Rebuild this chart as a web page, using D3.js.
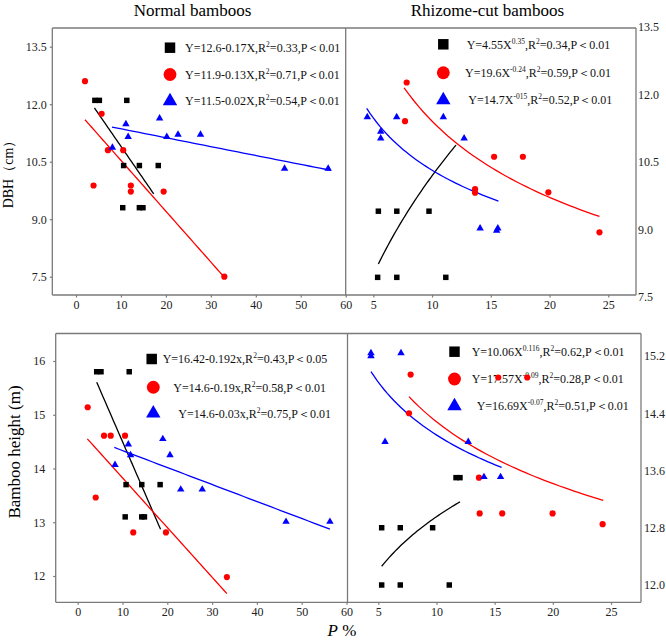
<!DOCTYPE html>
<html>
<head>
<meta charset="utf-8">
<script src="https://cdn.jsdelivr.net/npm/d3@7/dist/d3.min.js"></script>
<style>
	body { margin: 0; background: #fff; }
	svg text { font-family: "Liberation Serif", "Times New Roman", serif; }
</style>
</head>
<body>
<div id="chart"></div>
<script>
// values: [P %, value]
var normalDbhSquare = [[4.2,12.1],[5.2,12.1],[11.3,12.1],[10.6,10.4],[14.1,10.4],[18.3,10.4],[10.4,9.3],[14.1,9.3],[14.9,9.3]];
var normalDbhCircle = [[2.0,12.6],[5.7,11.75],[7.1,10.8],[10.5,10.8],[3.9,9.88],[12.2,9.88],[12.2,9.72],[19.5,9.72],[33.0,7.5]];
var normalDbhTriangle = [[8.1,10.87],[11.1,11.48],[11.6,11.15],[18.6,11.63],[20.2,11.15],[22.7,11.21],[27.7,11.21],[46.4,10.32],[56.1,10.32]];

var rhizomeDbhSquare = [[5.43,9.4],[7.0,9.4],[9.74,9.4],[5.37,7.93],[7.0,7.93],[11.17,7.93]];
var rhizomeDbhCircle = [[7.84,12.26],[7.7,11.4],[15.28,10.61],[17.73,10.61],[13.66,9.89],[13.66,9.81],[19.9,9.82],[24.25,8.93]];
var rhizomeDbhTriangle = [[4.49,11.49],[6.99,11.49],[10.96,11.49],[5.63,11.17],[5.63,11.02],[12.73,11.02],[14.09,9.02],[15.5,8.97],[15.6,9.02]];

var normalHtSquare = [[4.24,15.8],[5.2,15.8],[11.5,15.8],[10.8,13.7],[14.3,13.7],[18.4,13.7],[10.6,13.1],[14.3,13.1],[14.9,13.1]];
var normalHtCircle = [[2.23,15.14],[5.87,14.61],[7.37,14.61],[10.56,14.61],[4.02,13.46],[12.4,12.81],[19.7,12.81],[33.3,11.98]];
var normalHtTriangle = [[8.33,14.07],[11.3,14.45],[11.8,14.25],[19.0,14.55],[20.6,14.25],[23.0,13.61],[27.8,13.61],[46.5,13.01],[56.3,13.01]];

var rhizomeHtSquare = [[5.29,12.8],[6.89,12.8],[9.67,12.8],[5.29,12.0],[6.89,12.0],[11.1,12.0],[11.68,13.5],[12.02,13.5]];
var rhizomeHtCircle = [[7.78,14.94],[15.31,14.9],[17.8,14.9],[7.64,14.4],[13.65,13.5],[13.71,13.0],[15.65,13.0],[19.98,13.0],[24.28,12.85]];
var rhizomeHtTriangle = [[4.37,15.24],[4.37,15.2],[6.95,15.24],[5.58,14.0],[12.73,14.0],[14.08,13.51],[15.51,13.51]];

// fitted curves as drawn: [type, a, b, xStart, xEnd]  linear: a+bx, power: a*x^b
var normalDbhFit = [["lin",12.6,-0.17,4.1,17.3],["lin",11.86,-0.1326,2.0,32.7],["lin",11.59,-0.0232,8.0,56.7]];
var rhizomeDbhFit = [["pow",4.55,0.35,5.43,12.04],["pow",19.45,-0.232,7.62,24.25],["pow",14.7,-0.154,4.44,15.65]];
var normalHtFit = [["lin",16.42,-0.192,4.24,18.5],["lin",14.75,-0.0924,2.14,33.3],["lin",14.65,-0.0316,8.17,56.3]];
var rhizomeHtFit = [["pow",10.62,0.0863,5.29,12.02],["pow",17.57,-0.09,7.64,24.33],["pow",16.7,-0.0736,4.37,15.6]];

var normalDbhLegend = ["Y=12.6-0.17X,R^{2}=0.33,P＜0.01","Y=11.9-0.13X,R^{2}=0.71,P＜0.01","Y=11.5-0.02X,R^{2}=0.54,P＜0.01"];
var rhizomeDbhLegend = ["Y=4.55X^{0.35},R^{2}=0.34,P＜0.01","Y=19.6X^{-0.24},R^{2}=0.59,P＜0.01","Y=14.7X^{-015},R^{2}=0.52,P＜0.01"];
var normalHtLegend = ["Y=16.42-0.192x,R^{2}=0.43,P＜0.05","Y=14.6-0.19x,R^{2}=0.58,P＜0.01","Y=14.6-0.03x,R^{2}=0.75,P＜0.01"];
var rhizomeHtLegend = ["Y=10.06X^{0.116},R^{2}=0.62,P＜0.01","Y=17.57X^{-0.09},R^{2}=0.28,P＜0.01","Y=16.69X^{-0.07},R^{2}=0.51,P＜0.01"];

var normalXTicks = [0,10,20,30,40,50,60];
var rhizomeXTicks = [5,10,15,20,25];
var dbhTicks = [7.5,9.0,10.5,12.0,13.5];
var heightLeftTicks = [12,13,14,15,16];
var heightRightTicks = [12.0,12.8,13.6,14.4,15.2];

var titles = ["Normal bamboos","Rhizome-cut bamboos"];

var layout = { w: 666, h: 641 };
var colors = ["#000000","#ff0000","#0000ff"];
var frameColor = "#7a7a7a";

var svg = d3.select("#chart").append("svg")
			.attr("width", layout.w)
			.attr("height", layout.h);

// frames: two rows, each split at the divider
var rows = [
	{ l: 52.3, r: 636, t: 28, b: 295, mid: 345.7 },
	{ l: 55.7, r: 641, t: 333.5, b: 602.3, mid: 347.5 }
];
rows.forEach(function(f){
	var g = svg.append("g").attr("class", "frame");
	[[f.l,f.t,f.r,f.t],[f.l,f.b,f.r,f.b],[f.l,f.t,f.l,f.b],[f.r,f.t,f.r,f.b],[f.mid,f.t,f.mid,f.b]].forEach(function(s){
		g.append("line")
			.attr("x1", s[0]).attr("y1", s[1])
			.attr("x2", s[2]).attr("y2", s[3])
			.style("stroke", frameColor)
			.style("stroke-width", 1.3);
	});
});

var panels = [
	{ row: 0, side: "left", xd: [0,60], xr: [76,345.7], yd: [7.5,13.5], yr: [276.7,46.7],
	  xt: normalXTicks, yt: dbhTicks, yf: ".1f", ypad: 3,
	  series: [normalDbhSquare, normalDbhCircle, normalDbhTriangle], fits: normalDbhFit,
	  legend: normalDbhLegend, lgMark: [170,170,170], lgText: [185,185,185], lgY: [47.7,74.5,101] },
	{ row: 0, side: "right", xd: [5,25], xr: [373.3,608.3], yd: [7.5,13.5], yr: [296.7,26.7],
	  xt: rhizomeXTicks, yt: dbhTicks, yf: ".1f", ypad: 2,
	  series: [rhizomeDbhSquare, rhizomeDbhCircle, rhizomeDbhTriangle], fits: rhizomeDbhFit,
	  legend: rhizomeDbhLegend, lgMark: [443.3,443.3,443.3], lgText: [466.7,465,468.3], lgY: [44.3,72.7,100] },
	{ row: 1, side: "left", xd: [0,50], xr: [77.7,301.7], yd: [12,16], yr: [576,361],
	  xt: normalXTicks, yt: heightLeftTicks, yf: "d", ypad: 8,
	  series: [normalHtSquare, normalHtCircle, normalHtTriangle], fits: normalHtFit,
	  legend: normalHtLegend, lgMark: [151.7,153.3,153.3], lgText: [162.7,173.3,178.3], lgY: [359,387.3,413.3] },
	{ row: 1, side: "right", xd: [5,25], xr: [378.3,611], yd: [12.0,15.2], yr: [585,356],
	  xt: rhizomeXTicks, yt: heightRightTicks, yf: ".1f", ypad: 3,
	  series: [rhizomeHtSquare, rhizomeHtCircle, rhizomeHtTriangle], fits: rhizomeHtFit,
	  legend: rhizomeHtLegend, lgMark: [454.5,454.5,454.5], lgText: [471.7,471.7,476.7], lgY: [351.7,379,406] }
];

var shapes = [d3.symbolSquare, d3.symbolCircle, d3.symbolTriangle];
var pointSize = [30, 30, 24];
var legendSize = [110, 130, 90];

function fitValue(f, x){
	return f[0] == "lin" ? f[1] + f[2] * x : f[1] * Math.pow(x, f[2]);
}

function writeLabel(sel, str){
	// split "^{...}" into superscripts, the piece after one drops back down
	var parts = str.split(/\^\{([^}]*)\}/),
		shift = 0;
	parts.forEach(function(p, i){
		if(p === "") return;
		var sup = i % 2 == 1;
		var dy = sup ? -5 : (shift ? 5 : 0);
		var ts = sel.append("tspan").attr("dy", dy).text(p);
		if(sup) ts.style("font-size", "7.5px");
		shift = sup ? 1 : 0;
	});
}

panels.forEach(function(p){
	var f = rows[p.row];
	var xScale = d3.scaleLinear().domain(p.xd).range(p.xr),
		yScale = d3.scaleLinear().domain(p.yd).range(p.yr);

	var g = svg.append("g").attr("class", "panel");

	// x axis
	var xAxis = g.append("g")
		.attr("transform", "translate(0," + f.b + ")")
		.call(d3.axisBottom(xScale).tickValues(p.xt).tickSize(2.5).tickPadding(3).tickFormat(d3.format("d")));
	xAxis.select(".domain").remove();

	// y axis
	var yAxis;
	if(p.side == "left"){
		yAxis = g.append("g")
			.attr("transform", "translate(" + f.l + ",0)")
			.call(d3.axisLeft(yScale).tickValues(p.yt).tickSize(2.5).tickPadding(p.ypad).tickFormat(d3.format(p.yf)));
	}else{
		yAxis = g.append("g")
			.attr("transform", "translate(" + f.r + ",0)")
			.call(d3.axisRight(yScale).tickValues(p.yt).tickSize(0).tickPadding(p.ypad).tickFormat(d3.format(p.yf)));
	}
	yAxis.select(".domain").remove();

	[xAxis, yAxis].forEach(function(a){
		a.selectAll("line").style("stroke", frameColor).style("stroke-width", 1.2);
		a.selectAll("text")
			.style("font-family", "'Liberation Serif', serif")
			.style("font-size", "12px")
			.style("fill", "#222");
	});

	// legend
	p.legend.forEach(function(txt, i){
		g.append("path")
			.attr("d", d3.symbol().type(shapes[i]).size(legendSize[i]))
			.attr("transform", "translate(" + p.lgMark[i] + "," + p.lgY[i] + ")")
			.style("fill", colors[i]);
		var t = g.append("text")
			.attr("x", p.lgText[i])
			.attr("y", p.lgY[i] + 4.2)
			.style("font-size", "12px")
			.style("fill", "#111");
		writeLabel(t, txt);
	});

	// fitted lines
	var line = d3.line()
		.x(function(d){ return xScale(d[0]); })
		.y(function(d){ return yScale(d[1]); });
	p.fits.forEach(function(fit, i){
		var pts = d3.range(0, 41).map(function(k){
			var x = fit[3] + (fit[4] - fit[3]) * k / 40;
			return [x, fitValue(fit, x)];
		});
		g.append("path")
			.attr("d", line(pts))
			.style("fill", "none")
			.style("stroke", colors[i])
			.style("stroke-width", 1.3);
	});

	// points
	p.series.forEach(function(s, i){
		g.append("g").selectAll("path")
			.data(s)
			.enter().append("path")
			.attr("d", d3.symbol().type(shapes[i]).size(pointSize[i]))
			.attr("transform", function(d){ return "translate(" + xScale(d[0]) + "," + yScale(d[1]) + ")"; })
			.style("fill", colors[i]);
	});
});

// titles and axis labels
svg.append("text")
	.attr("x", 192.5).attr("y", 16)
	.attr("text-anchor", "middle")
	.style("font-size", "17px")
	.text(titles[0]);
svg.append("text")
	.attr("x", 487.5).attr("y", 16)
	.attr("text-anchor", "middle")
	.style("font-size", "17px")
	.text(titles[1]);

svg.append("text")
	.attr("transform", "translate(13,171) rotate(-90)")
	.attr("text-anchor", "middle")
	.style("font-size", "14px")
	.text("DBH（cm）");

svg.append("text")
	.attr("transform", "translate(20,452) rotate(-90)")
	.attr("text-anchor", "middle")
	.style("font-size", "17px")
	.text("Bamboo height (m)");

var pl = svg.append("text")
	.attr("x", 342).attr("y", 636)
	.attr("text-anchor", "middle")
	.style("font-size", "17px");
pl.append("tspan").style("font-style", "italic").text("P");
pl.append("tspan").text(" %");
</script>
</body>
</html>
